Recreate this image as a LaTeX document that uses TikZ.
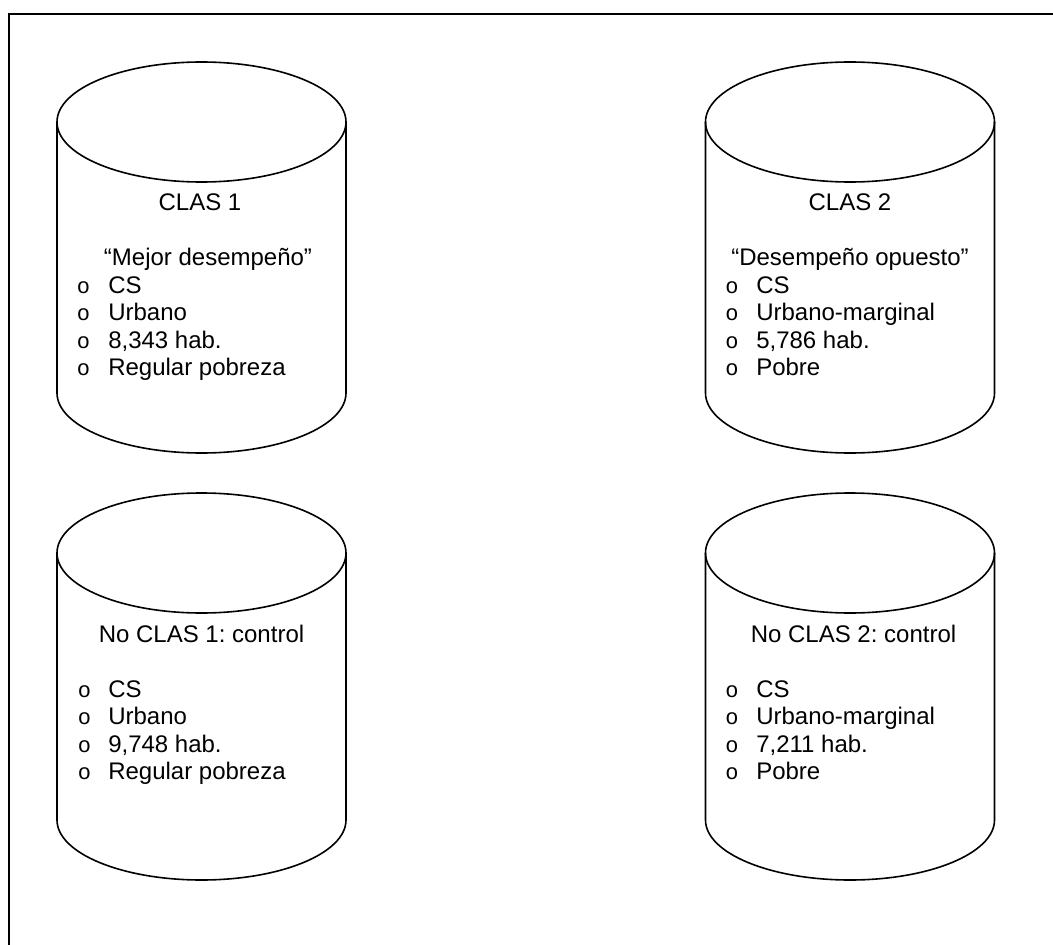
\documentclass[tikz,border=0pt]{standalone}
\usepackage{fontspec}
\setmainfont{Liberation Sans}
\newfontfamily\bulletfont{Liberation Mono}
\frenchspacing
\tikzset{
  frame/.style={line width=1.5pt},
  cyl/.style={line width=1.2pt},
  txt/.style={inner sep=0pt, font=\fontsize{18}{20.7}\selectfont},
  title/.style={txt, anchor=base},
  item/.style={txt, anchor=base west},
  bul/.style={inner sep=0pt, anchor=base, font=\bulletfont\fontsize{16.5}{19}\selectfont},
}
\newcommand{\drawcyl}[3]{%
  \begin{scope}[shift={(#1,-#2)}]
    \draw[cyl] (0,0) ellipse [x radius=144.5, y radius=60];
    \draw[cyl] (-144.5,0) -- (-144.5,-#3) arc[start angle=180, end angle=360, x radius=144.5, y radius=60] -- (144.5,0);
  \end{scope}}
\begin{document}
\begin{tikzpicture}[x=0.75pt,y=0.75pt]
\useasboundingbox (0,0) rectangle (1053,-945);
\clip (0,0) rectangle (1053,-945);
\fill[white] (0,0) rectangle (1053,-945);
\draw[frame] (9,-960) -- (9,-14) -- (1070,-14);

\drawcyl{201.5}{122}{271}
\drawcyl{850}{122}{271}
\drawcyl{201.5}{553}{267}
\drawcyl{850}{553}{267}

% Cylinder 1
\node[title] (t1) at (200,-210) {CLAS 1};
\node[title] (q1) at (208,-265) {“Mejor desempeño”};
\node[bul] (b11) at (83.5,-293) {o};
\node[item] (i11) at (108,-293) {CS};
\node[bul] (b12) at (83.5,-320.5) {o};
\node[item] (i12) at (108,-320.5) {Urbano};
\node[bul] (b13) at (83.5,-348) {o};
\node[item] (i13) at (108,-348) {8,343 hab.};
\node[bul] (b14) at (83.5,-375.5) {o};
\node[item] (i14) at (108,-375.5) {Regular pobreza};

% Cylinder 2
\node[title] (t2) at (850,-210) {CLAS 2};
\node[title] (q2) at (850,-265) {“Desempeño opuesto”};
\node[bul] (b21) at (732,-293) {o};
\node[item] (i21) at (756,-293) {CS};
\node[bul] (b22) at (732,-320.5) {o};
\node[item] (i22) at (756,-320.5) {Urbano-marginal};
\node[bul] (b23) at (732,-348) {o};
\node[item] (i23) at (756,-348) {5,786 hab.};
\node[bul] (b24) at (732,-375.5) {o};
\node[item] (i24) at (756,-375.5) {Pobre};

% Cylinder 3
\node[title] (t3) at (201.5,-642) {No CLAS 1: control};
\node[bul] (b31) at (84.5,-697) {o};
\node[item] (i31) at (108,-697) {CS};
\node[bul] (b32) at (84.5,-724.5) {o};
\node[item] (i32) at (108,-724.5) {Urbano};
\node[bul] (b33) at (84.5,-752) {o};
\node[item] (i33) at (108,-752) {9,748 hab.};
\node[bul] (b34) at (84.5,-779.5) {o};
\node[item] (i34) at (108,-779.5) {Regular pobreza};

% Cylinder 4
\node[title] (t4) at (853.5,-642) {No CLAS 2: control};
\node[bul] (b41) at (732,-697) {o};
\node[item] (i41) at (756,-697) {CS};
\node[bul] (b42) at (732,-724.5) {o};
\node[item] (i42) at (756,-724.5) {Urbano-marginal};
\node[bul] (b43) at (732,-752) {o};
\node[item] (i43) at (756,-752) {7,211 hab.};
\node[bul] (b44) at (732,-779.5) {o};
\node[item] (i44) at (756,-779.5) {Pobre};
\end{tikzpicture}
\end{document}
